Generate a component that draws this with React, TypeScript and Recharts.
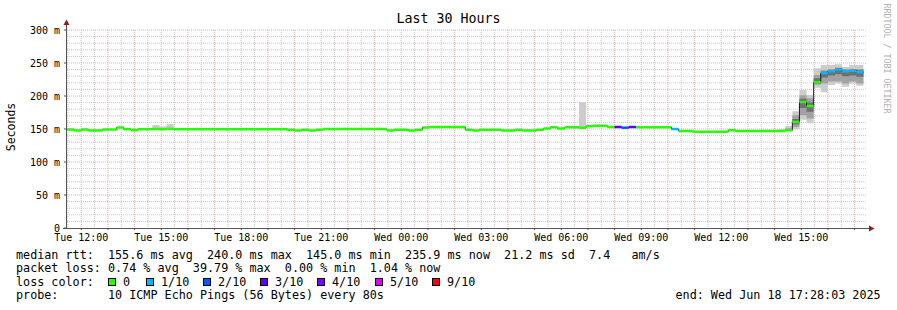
import { ComposedChart, Area, XAxis, YAxis, CartesianGrid } from 'recharts';

// one rrd step = 16 minutes, x axis is minutes since Tue 11:28
const STEP_MIN = 16;
const SPAN_MIN = 1800;

// median rtt per step (ms)
const medianMs = [
  149.2, 147.8, 149.2, 147.8, 147.8, 149.2, 149.2, 152.3, 149.5, 148.3,
  149.5, 149.5, 150.0, 149.5, 150.5, 149.8, 149.8, 149.8, 149.8, 149.8,
  149.8, 149.8, 149.8, 149.8, 149.8, 149.8, 149.8, 149.8, 149.8, 149.8,
  149.8, 149.0, 147.7, 149.0, 147.7, 149.0, 150.0, 150.0, 150.0, 150.0,
  150.0, 150.0, 150.0, 150.0, 150.0, 147.7, 149.0, 149.0, 147.7, 149.0,
  152.3, 153.0, 153.0, 153.0, 153.0, 153.0, 149.0, 147.7, 149.0, 149.0,
  149.0, 147.7, 147.7, 149.0, 147.7, 147.7, 149.0, 150.8, 152.7, 150.8,
  152.5, 152.5, 152.0, 154.0, 154.8, 154.8, 153.0, 153.0, 152.0, 153.0,
  152.8, 152.8, 152.8, 152.8, 152.8, 150.0, 147.0, 147.0, 145.7, 145.7,
  145.7, 145.7, 145.7, 148.2, 147.0, 147.0, 147.0, 147.0, 147.0, 147.0,
  147.0, 148.2, 160.6, 191.0, 184.7, 221.0, 234.8, 237.4, 240.0, 237.4,
  238.4, 235.9,
];

// lost pings out of 10 per step
const lossCount = [
  0, 0, 0, 0, 0, 0, 0, 0, 0, 0,
  0, 0, 0, 0, 0, 0, 0, 0, 0, 0,
  0, 0, 0, 0, 0, 0, 0, 0, 0, 0,
  0, 0, 0, 0, 0, 0, 0, 0, 0, 0,
  0, 0, 0, 0, 0, 0, 0, 0, 0, 0,
  0, 0, 0, 0, 0, 0, 0, 0, 0, 0,
  0, 0, 0, 0, 0, 0, 0, 0, 0, 0,
  0, 0, 0, 0, 0, 0, 0, 3, 2, 3,
  0, 0, 0, 0, 0, 1, 0, 0, 0, 0,
  0, 0, 0, 0, 0, 0, 0, 0, 0, 0,
  0, 0, 0, 0, 0, 0, 1, 1, 1, 1,
  1, 1,
];

// smoke: outer (min..max ping)
const smokeSteps = [8, 12, 13, 14, 18, 20, 21, 72, 74, 100, 101, 102, 103, 104, 105, 106, 107, 108, 109, 110, 111];
const smokeLow = [149.0, 149.5, 149.0, 150.0, 149.5, 149.5, 149.5, 151.0, 154.0, 146.5, 147.0, 150.0, 164.0, 158.6, 212.6, 205.5, 216.7, 219.0, 214.0, 219.0, 215.6];
const smokeHigh = [152.0, 156.0, 154.0, 157.6, 152.0, 152.0, 152.0, 191.0, 156.5, 149.5, 154.5, 177.0, 209.0, 201.5, 242.0, 247.0, 247.0, 248.0, 244.0, 247.0, 247.0];

// smoke: middle pings
const midSteps = [101, 102, 103, 104, 105, 106, 107, 108, 109, 110, 111];
const midLow = [147.5, 153.0, 171.0, 166.0, 217.0, 219.0, 222.0, 222.0, 219.0, 222.0, 219.0];
const midHigh = [151.0, 171.0, 201.0, 196.5, 232.0, 239.0, 241.0, 243.0, 241.0, 241.0, 241.0];

// smoke: pings closest to the median
const coreSteps = [102, 103, 104, 105, 106, 107, 108, 109, 110, 111];
const coreLow = [157.0, 182.0, 176.0, 219.0, 228.0, 231.0, 233.0, 230.0, 231.0, 229.0];
const coreHigh = [165.0, 196.0, 190.0, 227.0, 237.0, 239.0, 242.0, 239.0, 240.0, 239.0];

const lossLevels = [0, 1, 2, 3, 4, 5, 9];
const lossLabels = ['0', '1/10', '2/10', '3/10', '4/10', '5/10', '9/10'];
const lossColors = ['#26ff00', '#00b8ff', '#0059ff', '#5e00ff', '#7e00ff', '#dd00ff', '#ff0000'];

const timeTickMinutes = [32, 212, 392, 572, 752, 932, 1112, 1292, 1472, 1652];
const timeLabels = ['Tue 12:00', 'Tue 15:00', 'Tue 18:00', 'Tue 21:00', 'Wed 00:00', 'Wed 03:00', 'Wed 06:00', 'Wed 09:00', 'Wed 12:00', 'Wed 15:00'];
const yTicks = [0, 50, 100, 150, 200, 250, 300];

const statLines = [
  'median rtt:  155.6 ms avg  240.0 ms max  145.0 ms min  235.9 ms now  21.2 ms sd  7.4   am/s',
  'packet loss: 0.74 % avg  39.79 % max  0.00 % min  1.04 % now',
];
const probeText = 'probe:       10 ICMP Echo Pings (56 Bytes) every 80s';
const endText = 'end: Wed Jun 18 17:28:03 2025';

const MONO = '"DejaVu Sans Mono", monospace';
const BAND = 1.9; // half height of the loss-colour band, ms

const levelIndex = (n: number) => {
  let idx = 0;
  lossLevels.forEach((l, i) => {
    if (n >= l) idx = i;
  });
  return idx;
};

const layer = (steps: number[], lo: number[], hi: number[], k: number) => {
  const i = steps.indexOf(k);
  return i < 0 ? null : [lo[i], hi[i]];
};

const rows: any[] = [];
medianMs.forEach((m, k) => {
  const li = levelIndex(lossCount[k]);
  [k * STEP_MIN, (k + 1) * STEP_MIN].forEach((t) => {
    const row: any = {
      t,
      med: m,
      outer: layer(smokeSteps, smokeLow, smokeHigh, k),
      mid: layer(midSteps, midLow, midHigh, k),
      core: layer(coreSteps, coreLow, coreHigh, k),
    };
    lossLevels.forEach((_, i) => {
      row['b' + i] = i === li ? [m - BAND, m + BAND] : null;
    });
    rows.push(row);
  });
});

// grid lines
const majorX: number[] = [];
const minorX: number[] = [];
for (let v = 2; v <= SPAN_MIN; v += 30) {
  if ((v - 32) % 60 === 0) majorX.push(v);
  else minorX.push(v);
}
const majorY: number[] = [];
const minorY: number[] = [];
for (let v = 10; v <= 300; v += 10) {
  if (v % 50 === 0) majorY.push(v);
  else minorY.push(v);
}
const hourTicks = [...majorX];

const legendX = [108, 146, 203, 260, 317, 375, 432];

const txt = (top: number, left: number, s: string, extra: any = {}) => (
  <div
    style={{
      position: 'absolute',
      top,
      left,
      fontFamily: MONO,
      fontSize: 11.76,
      lineHeight: '12px',
      whiteSpace: 'pre',
      color: '#000',
      ...extra,
    }}
  >
    {s}
  </div>
);

export default function App() {
  return (
    <div style={{ position: 'absolute', left: 0, top: 0, width: 897, height: 310, background: '#fff', overflow: 'hidden' }}>
      <ComposedChart width={897} height={310} data={rows} margin={{ top: 30, right: 30, bottom: 62, left: 8 }}>
        <CartesianGrid verticalValues={minorX} horizontalValues={minorY} stroke="#c8c8c8" strokeDasharray="1 1" fill="none" />
        <CartesianGrid verticalValues={majorX} horizontalValues={majorY} stroke="#f0a8a8" strokeDasharray="1 1" fill="none" />
        <XAxis
          dataKey="t"
          type="number"
          domain={[0, SPAN_MIN]}
          ticks={hourTicks}
          interval={0}
          height={20}
          axisLine={false}
          tickLine={{ stroke: '#555' }}
          tickSize={2}
          tickMargin={4}
          tick={{ fontFamily: MONO, fontSize: 10, fill: '#000' }}
          tickFormatter={(v: number) => {
            const i = timeTickMinutes.indexOf(v);
            return i >= 0 ? timeLabels[i] : '';
          }}
        />
        <YAxis
          type="number"
          domain={[0, 300]}
          ticks={yTicks}
          interval={0}
          width={59}
          axisLine={false}
          tickLine={{ stroke: '#555' }}
          tickSize={3}
          tickMargin={4}
          tick={{ fontFamily: MONO, fontSize: 10, fill: '#000' }}
          tickFormatter={(v: number) => (v === 0 ? '0' : `${v} m`)}
        />
        <Area dataKey="outer" type="linear" stroke="none" fill="#cccccc" fillOpacity={1} isAnimationActive={false} dot={false} activeDot={false} />
        <Area dataKey="mid" type="linear" stroke="none" fill="#a2a2a2" fillOpacity={1} isAnimationActive={false} dot={false} activeDot={false} />
        <Area dataKey="core" type="linear" stroke="none" fill="#707070" fillOpacity={1} isAnimationActive={false} dot={false} activeDot={false} />
        <Area dataKey="med" type="linear" stroke="#1a1a1a" strokeWidth={1} fill="none" isAnimationActive={false} dot={false} activeDot={false} />
        {lossLevels.map((_, i) => (
          <Area
            key={i}
            dataKey={'b' + i}
            type="linear"
            stroke="none"
            fill={lossColors[i]}
            fillOpacity={1}
            isAnimationActive={false}
            dot={false}
            activeDot={false}
          />
        ))}
      </ComposedChart>

      <svg width={897} height={310} style={{ position: 'absolute', left: 0, top: 0, pointerEvents: 'none' }}>
        <line x1={66.5} y1={228} x2={66.5} y2={23} stroke="#555" strokeWidth={1} />
        <line x1={63} y1={228.5} x2={870} y2={228.5} stroke="#555" strokeWidth={1} />
        <polygon points="63.5,25 69.5,25 66.5,19.5" fill="#931c1c" />
        <polygon points="869,225.5 869,231.5 874.5,228.5" fill="#931c1c" />
      </svg>

      <div
        style={{
          position: 'absolute',
          top: 12,
          left: 0,
          width: 897,
          textAlign: 'center',
          fontFamily: MONO,
          fontSize: 13.3,
          lineHeight: '14px',
          color: '#000',
        }}
      >
        Last 30 Hours
      </div>

      <div
        style={{
          position: 'absolute',
          top: 121,
          left: -39,
          width: 100,
          textAlign: 'center',
          fontFamily: MONO,
          fontSize: 11.5,
          lineHeight: '12px',
          transform: 'rotate(-90deg)',
          color: '#000',
        }}
      >
        Seconds
      </div>

      <div
        style={{
          position: 'absolute',
          top: 54,
          left: 826,
          width: 120,
          textAlign: 'center',
          fontFamily: MONO,
          fontSize: 8.3,
          lineHeight: '9px',
          transform: 'rotate(90deg)',
          color: '#b0b0b0',
          whiteSpace: 'pre',
        }}
      >
        RRDTOOL / TOBI OETIKER
      </div>

      {txt(249, 16, statLines[0])}
      {txt(262.3, 16, statLines[1])}
      {txt(275.6, 16, 'loss color:')}
      {lossLabels.map((lab, i) => (
        <div key={lab}>
          <div
            style={{
              position: 'absolute',
              top: 278,
              left: legendX[i],
              width: 8,
              height: 8,
              boxSizing: 'border-box',
              border: '1px solid #000',
              background: lossColors[i],
            }}
          />
          {txt(275.6, legendX[i] + 15, lab)}
        </div>
      ))}
      {txt(289.2, 16, probeText)}
      {txt(289.2, 675.5, endText)}
    </div>
  );
}
